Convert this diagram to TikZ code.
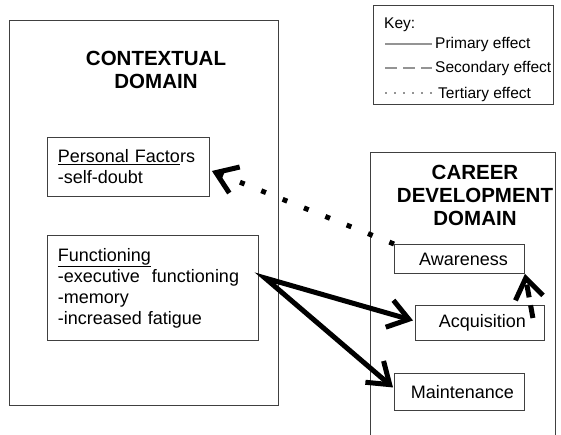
\documentclass[tikz,border=0pt]{standalone}
\usepackage{fontspec}
\setmainfont{Liberation Sans}
\usetikzlibrary{arrows.meta,calc}
\begin{document}
\begin{tikzpicture}[x=1pt,y=-1pt,
  frame/.style={draw=black!75, line width=0.9pt},
  box/.style={frame, inner sep=0pt, font=\fontsize{18}{21}\selectfont},
  title/.style={font=\bfseries\fontsize{20.5}{23}\selectfont, align=center, inner sep=0pt},
  keytext/.style={font=\fontsize{15.5}{18}\selectfont, anchor=west, inner sep=0pt},
  barb/.tip={Straight Barb[length=20pt,width=28pt]},
  primary/.style={line width=5pt, line join=miter},
  secondary/.style={line width=5pt, dash pattern=on 13pt off 8pt},
  tertiary/.style={line width=5pt, dash pattern=on 5pt off 18pt},
  keyline/.style={draw=black!42, line width=2pt},
]
\useasboundingbox (0,0) rectangle (561,435);

% contextual domain
\node[frame, anchor=north west, minimum width=269pt, minimum height=385pt, inner sep=0pt] (ctx) at (9,20) {};
\node[title] (ctxtitle) at (156,70) {CONTEXTUAL\\DOMAIN};
\node[box, anchor=north west, minimum width=162pt, minimum height=59pt, text width=141pt, align=left] (pf) at (47,137)
  {\underline{Personal Facto}rs\\-self-doubt};
\node[box, anchor=north west, minimum width=211pt, minimum height=105pt, text width=190pt, align=left] (fn) at (47,235)
  {\underline{Functioning}\\-executive~~functioning\\-memory\\-increased fatigue};

% career development domain (open at the bottom)
\draw[frame] (370,435) -- (370,152) -- (555,152) -- (555,435);
\node[title] (cartitle) at (475,195) {CAREER\\DEVELOPMENT\\DOMAIN};
\node[box, anchor=north west, minimum width=130pt, minimum height=29pt] (aw) at (394,244) {\hspace*{8pt}Awareness};
\node[box, anchor=north west, minimum width=129pt, minimum height=35pt] (aq) at (415,305) {\hspace*{5pt}Acquisition};
\node[box, anchor=north west, minimum width=130pt, minimum height=37pt] (mt) at (394,373) {\hspace*{6pt}Maintenance};

% key
\node[frame, anchor=north west, minimum width=180pt, minimum height=99pt, inner sep=0pt] (key) at (373,5) {};
\node[keytext] (keyhead) at (384,25) {Key:};
\coordinate (k1a) at (385,44); \coordinate (k1b) at (432,44);
\coordinate (k2a) at (385,68); \coordinate (k2b) at (432,68);
\coordinate (k3a) at (385,93); \coordinate (k3b) at (432,93);
\draw[keyline] (k1a) -- (k1b);
\draw[keyline, dash pattern=on 12pt off 6pt] (k2a) -- (k2b);
\draw[keyline, line width=1.5pt, dash pattern=on 1.5pt off 7.5pt] (k3a) -- (k3b);
\node[keytext] (k1) at (435,44) {Primary effect};
\node[keytext] (k2) at (435,68) {Secondary effect};
\node[keytext] (k3) at (438,94) {Tertiary effect};

% effects
\coordinate (src) at (265,278);
\draw[primary, barb-barb] ($(aq.west)+(-2,-2.5)$) -- (src) -- ($(mt.west)+(-1,-4.5)$);
\draw[secondary, -barb] ($(aq.north east)+(-12,13)$) -- (aw.south east);
\draw[tertiary, -barb] (aw.north west) -- ($(pf.east)+(2,4)$);
\end{tikzpicture}
\end{document}
